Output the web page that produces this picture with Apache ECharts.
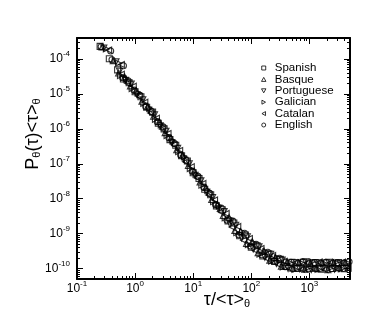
<!DOCTYPE html>
<html>
<head>
<meta charset="utf-8">
<script src="https://cdn.jsdelivr.net/npm/echarts@6/dist/echarts.min.js"></script>
<style>
html,body{margin:0;padding:0;background:#fff;}
#chart{width:374px;height:314px;}
</style>
</head>
<body>
<div id="chart"></div>
<script>
// ---- data ----
const seriesNames = ['Spanish', 'Basque', 'Portuguese', 'Galician', 'Catalan', 'English'];

const spanishX = [0.25, 0.36, 0.50, 0.63, 0.79, 1.0, 1.26, 1.58, 2.0, 2.51, 3.16, 3.98, 5.01, 6.31, 7.94, 10, 12.6, 15.8, 20, 25.1, 31.6, 39.8, 50.1, 63.1, 79.4, 100, 126, 158, 200, 251, 316, 398, 501, 631, 794, 1000, 1259, 1585, 1995, 2512, 3162, 3981];
const spanishY = [2.3e-4, 1.02e-4, 4.9e-5, 2.69e-5, 2.09e-5, 1.15e-5, 8.3e-6, 4.17e-6, 3.02e-6, 1.45e-6, 1.0e-6, 4.9e-7, 3.39e-7, 1.70e-7, 1.20e-7, 5.5e-8, 3.8e-8, 1.86e-8, 1.29e-8, 6.2e-9, 4.8e-9, 2.29e-9, 2.0e-9, 8.7e-10, 9.1e-10, 4.1e-10, 4.5e-10, 2.29e-10, 2.63e-10, 1.58e-10, 1.82e-10, 1.15e-10, 1.51e-10, 1.0e-10, 1.51e-10, 1.02e-10, 1.48e-10, 9.5e-11, 1.45e-10, 1.0e-10, 1.48e-10, 9.8e-11];

const basqueX = [0.27, 0.42, 0.52, 0.66, 0.83, 1.04, 1.31, 1.65, 2.08, 2.61, 3.29, 4.14, 5.21, 6.56, 8.26, 10.4, 13.1, 16.5, 20.8, 26.1, 32.9, 41.4, 52.1, 65.6, 82.6, 104, 131, 165, 208, 261, 329, 414, 521, 656, 826, 1040, 1310, 1650, 2080, 2610, 3290, 4140];
const basqueY = [2.2e-4, 9.0e-5, 3.98e-5, 3.09e-5, 1.70e-5, 1.26e-5, 6.2e-6, 4.47e-6, 2.29e-6, 1.62e-6, 7.8e-7, 5.5e-7, 2.51e-7, 1.78e-7, 8.9e-8, 6.2e-8, 3.0e-8, 2.09e-8, 9.5e-9, 6.9e-9, 3.3e-9, 2.88e-9, 1.23e-9, 1.15e-9, 5.2e-10, 5.9e-10, 2.82e-10, 3.16e-10, 1.74e-10, 2.04e-10, 1.17e-10, 1.51e-10, 1.02e-10, 1.45e-10, 9.5e-11, 1.41e-10, 1.0e-10, 1.51e-10, 9.3e-11, 1.45e-10, 1.05e-10, 1.48e-10];

const portugueseX = [0.29, 0.47, 0.54, 0.68, 0.86, 1.08, 1.36, 1.71, 2.16, 2.71, 3.41, 4.30, 5.41, 6.81, 8.57, 10.8, 13.6, 17.1, 21.6, 27.1, 34.1, 43.0, 54.1, 68.1, 85.7, 108, 136, 171, 216, 271, 341, 430, 541, 681, 857, 1080, 1360, 1710, 2160, 2710, 3410, 4300];
const portugueseY = [2.05e-4, 8.3e-5, 4.47e-5, 2.45e-5, 1.91e-5, 9.5e-6, 6.8e-6, 3.47e-6, 2.51e-6, 1.23e-6, 8.5e-7, 4.07e-7, 2.75e-7, 1.38e-7, 1.0e-7, 4.68e-8, 3.24e-8, 1.55e-8, 1.07e-8, 5.1e-9, 4.27e-9, 1.86e-9, 1.74e-9, 7.4e-10, 8.1e-10, 3.63e-10, 4.17e-10, 2.09e-10, 2.57e-10, 1.38e-10, 1.74e-10, 1.0e-10, 1.48e-10, 9.8e-11, 1.55e-10, 9.3e-11, 1.45e-10, 1.02e-10, 1.51e-10, 9.5e-11, 1.41e-10, 1.0e-10];

const galicianX = [0.32, 0.52, 0.56, 0.71, 0.89, 1.12, 1.41, 1.78, 2.24, 2.82, 3.55, 4.47, 5.62, 7.08, 8.91, 11.2, 14.1, 17.8, 22.4, 28.2, 35.5, 44.7, 56.2, 70.8, 89.1, 112, 141, 178, 224, 282, 355, 447, 562, 708, 891, 1120, 1410, 1780, 2240, 2820, 3550, 4470];
const galicianY = [1.95e-4, 7.6e-5, 3.35e-5, 2.66e-5, 1.43e-5, 1.08e-5, 5.4e-6, 3.89e-6, 1.88e-6, 1.30e-6, 6.4e-7, 4.5e-7, 2.21e-7, 1.57e-7, 7.3e-8, 4.95e-8, 2.43e-8, 1.72e-8, 8.2e-9, 6.2e-9, 2.82e-9, 2.6e-9, 1.06e-9, 1.11e-9, 4.84e-10, 5.4e-10, 2.57e-10, 3.02e-10, 1.64e-10, 2.02e-10, 1.11e-10, 1.51e-10, 9.5e-11, 1.48e-10, 1.0e-10, 1.55e-10, 9.5e-11, 1.41e-10, 1.02e-10, 1.51e-10, 9.8e-11, 1.45e-10];

const catalanX = [0.35, 0.58, 0.58, 0.74, 0.93, 1.17, 1.47, 1.85, 2.33, 2.93, 3.69, 4.64, 5.85, 7.36, 9.27, 11.7, 14.7, 18.5, 23.3, 29.3, 36.9, 46.4, 58.5, 73.6, 92.7, 117, 147, 185, 233, 293, 369, 464, 585, 736, 927, 1170, 1470, 1850, 2330, 2930, 3690, 4640];
const catalanY = [1.8e-4, 7.0e-5, 3.66e-5, 2.02e-5, 1.67e-5, 8.4e-6, 5.8e-6, 2.84e-6, 2.02e-6, 9.9e-7, 7.3e-7, 3.49e-7, 2.38e-7, 1.14e-7, 8.2e-8, 3.94e-8, 2.73e-8, 1.27e-8, 9.2e-9, 4.27e-9, 3.77e-9, 1.55e-9, 1.6e-9, 6.4e-10, 7.2e-10, 3.28e-10, 3.72e-10, 1.92e-10, 2.36e-10, 1.30e-10, 1.61e-10, 9.8e-11, 1.48e-10, 9.5e-11, 1.45e-10, 1.0e-10, 1.51e-10, 9.3e-11, 1.48e-10, 1.0e-10, 1.51e-10, 1.02e-10];

const englishX = [0.26, 0.38, 0.40, 0.63, 0.61, 0.76, 0.96, 1.21, 1.52, 1.92, 2.42, 3.04, 3.83, 4.82, 6.07, 7.64, 9.62, 12.1, 15.2, 19.2, 24.2, 30.4, 38.3, 48.2, 60.7, 76.4, 96.2, 121, 152, 192, 242, 304, 383, 482, 607, 764, 962, 1210, 1520, 1920, 2420, 3040, 3830, 4820];
const englishY = [2.25e-4, 1.7e-4, 9.5e-5, 6.4e-5, 2.90e-5, 2.39e-5, 1.29e-5, 9.1e-6, 4.37e-6, 3.14e-6, 1.58e-6, 1.15e-6, 5.6e-7, 3.73e-7, 1.78e-7, 1.26e-7, 6.05e-8, 4.37e-8, 2.14e-8, 1.42e-8, 6.8e-9, 5.4e-9, 2.42e-9, 2.27e-9, 9.2e-10, 1.02e-9, 4.4e-10, 4.9e-10, 2.45e-10, 2.93e-10, 1.63e-10, 1.96e-10, 1.12e-10, 1.51e-10, 1.02e-10, 1.55e-10, 9.5e-11, 1.48e-10, 1.0e-10, 1.51e-10, 9.8e-11, 1.45e-10, 1.0e-10, 1.55e-10];

const xTickLabels = [0.1, 1, 10, 100, 1000];
const yTickLabels = [1e-10, 1e-9, 1e-8, 1e-7, 1e-6, 1e-5, 1e-4];
const xRange = [0.1, 5000];
const yRange = [5e-11, 4e-4];

// ---- chart ----
function minorLogTicks(range) {
  const out = [];
  const lo = Math.floor(Math.log10(range[0])), hi = Math.ceil(Math.log10(range[1]));
  for (let e = lo; e <= hi; e++) {
    for (let m = 2; m <= 9; m++) {
      const v = m * Math.pow(10, e);
      if (v > range[0] && v < range[1]) out.push(v);
    }
  }
  return out;
}
const xMinor = minorLogTicks(xRange);
const yMinor = minorLogTicks(yRange);

const FONT = 'Liberation Sans';
const supRich = {
  b: { fontSize: 12, fontFamily: FONT, color: '#000', verticalAlign: 'bottom', lineHeight: 12 },
  s: { fontSize: 8, fontFamily: FONT, color: '#000', verticalAlign: 'bottom', lineHeight: 8, padding: [0, 0, 7, 0] }
};
function powLabel(v) {
  const e = Math.round(Math.log10(v));
  return '{b|10}{s|' + e + '}';
}

function makeAxis(kind, position, major, range, withLabel, tickVals, tickLen, showLine) {
  return {
    type: 'log', logBase: 10, position: position,
    min: range[0], max: range[1],
    axisLine: { show: showLine, onZero: false, lineStyle: { color: '#000', width: 2 } },
    axisTick: { show: true, inside: true, length: tickLen, customValues: tickVals, lineStyle: { color: '#000', width: 1 } },
    minorTick: { show: false },
    splitLine: { show: false },
    axisLabel: withLabel ? {
      show: true, customValues: major, formatter: powLabel, rich: supRich,
      margin: kind === 'x' ? 4 : 7, color: '#000'
    } : { show: false }
  };
}

const xAxes = [
  makeAxis('x', 'bottom', xTickLabels, xRange, true, xTickLabels, 6, true),
  makeAxis('x', 'bottom', xTickLabels, xRange, false, xMinor, 3, false),
  makeAxis('x', 'top', xTickLabels, xRange, false, xTickLabels, 6, true),
  makeAxis('x', 'top', xTickLabels, xRange, false, xMinor, 3, false)
];
const yAxes = [
  makeAxis('y', 'left', yTickLabels, yRange, true, yTickLabels, 6, true),
  makeAxis('y', 'left', yTickLabels, yRange, false, yMinor, 3, false),
  makeAxis('y', 'right', yTickLabels, yRange, false, yTickLabels, 6, true),
  makeAxis('y', 'right', yTickLabels, yRange, false, yMinor, 3, false)
];

const seriesXs = [spanishX, basqueX, portugueseX, galicianX, catalanX, englishX];
const seriesYs = [spanishY, basqueY, portugueseY, galicianY, catalanY, englishY];
const symbols = [
  'path://M0,0 L10,0 L10,10 L0,10 Z',
  'path://M5,0 L10,9 L0,9 Z',
  'path://M0,0 L10,0 L5,9 Z',
  'path://M0,0 L9,5 L0,10 Z',
  'path://M9,0 L0,5 L9,10 Z',
  'circle'
];
const markerStyle = { color: 'rgba(255,255,255,0)', borderColor: '#000', borderWidth: 1.1 };

const series = seriesNames.map((name, k) => ({
  name: name,
  type: 'scatter',
  xAxisIndex: 0, yAxisIndex: 0,
  symbol: symbols[k],
  symbolSize: 6,
  itemStyle: markerStyle,
  emphasis: { disabled: true },
  data: seriesXs[k].map((x, i) => [x, seriesYs[k][i]])
}));

const chart = echarts.init(document.getElementById('chart'), null, { renderer: 'canvas' });
chart.setOption({
  animation: false,
  backgroundColor: '#fff',
  grid: { left: 77, right: 24, top: 38, bottom: 35, containLabel: false },
  xAxis: xAxes,
  yAxis: yAxes,
  legend: {
    orient: 'vertical', left: 256, top: 57,
    itemWidth: 12, itemHeight: 4, itemGap: -0.6,
    textStyle: { fontFamily: FONT, fontSize: 11.5, color: '#000', lineHeight: 11 },
    data: seriesNames.map((n, k) => ({ name: n, icon: symbols[k] })),
    itemStyle: { color: 'rgba(255,255,255,0)', borderColor: '#000', borderWidth: 1 },
    selectedMode: false
  },
  graphic: [
    {
      type: 'text', x: 33, y: 134, rotation: Math.PI / 2,
      style: {
        text: '{m|P}{s|θ}{m|(τ)<τ>}{s|θ}',
        align: 'center', verticalAlign: 'middle',
        rich: {
          m: { fontSize: 18, fontFamily: FONT, fill: '#000', verticalAlign: 'top', lineHeight: 18 },
          s: { fontSize: 11, fontFamily: FONT, fill: '#000', verticalAlign: 'bottom', lineHeight: 11, padding: [10, 0, 0, 0] }
        }
      }
    },
    {
      type: 'text', x: 227, y: 300,
      style: {
        text: '{m|τ/<τ>}{s|θ}',
        align: 'center', verticalAlign: 'middle',
        rich: {
          m: { fontSize: 18, fontFamily: FONT, fill: '#000', verticalAlign: 'top', lineHeight: 18 },
          s: { fontSize: 11, fontFamily: FONT, fill: '#000', verticalAlign: 'bottom', lineHeight: 11, padding: [10, 0, 0, 0] }
        }
      }
    }
  ],
  series: series
});
</script>
</body>
</html>
